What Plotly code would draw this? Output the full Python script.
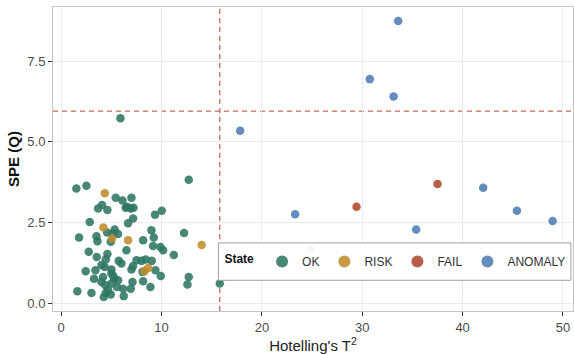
import plotly.graph_objects as go

# ---- data ----
ok_t2 = [1.51, 2.51, 12.71, 5.43, 6.10, 7.00, 4.07, 3.67, 4.60, 6.43, 6.55, 6.93, 7.20, 9.35, 10.02,
         7.16, 6.66, 2.84, 4.57, 5.33, 5.66, 1.78, 3.51, 3.61, 4.94, 8.16, 8.99, 9.22, 12.24, 9.15,
         9.89, 10.15, 6.50, 2.74, 4.60, 11.22, 3.54, 5.73, 6.00, 4.44, 4.01, 7.16, 7.00, 7.50, 8.00,
         8.42, 9.02, 9.39, 9.92, 2.44, 3.41, 5.00, 5.27, 3.27, 4.01, 5.00, 7.10, 8.16, 12.71, 12.58,
         15.80, 4.40, 5.56, 6.16, 6.93, 8.89, 1.61, 3.01, 4.44, 4.94, 4.24, 6.23, 4.67, 5.90, 4.17,
         5.67, 4.34, 5.17, 5.00, 5.20, 8.10]
ok_spe = [3.56, 3.64, 3.83, 3.27, 3.19, 3.27, 3.05, 2.94, 2.89, 2.96, 2.99, 2.94, 2.96, 2.75, 2.87,
          2.63, 2.48, 2.52, 2.20, 2.29, 2.15, 2.04, 2.08, 1.93, 1.91, 1.96, 2.27, 2.04, 2.18, 1.78,
          1.75, 1.65, 1.65, 1.60, 1.53, 1.50, 1.44, 1.32, 1.24, 1.36, 1.19, 1.16, 1.05, 1.34, 1.32,
          1.36, 1.32, 1.03, 0.85, 1.00, 1.03, 0.93, 0.77, 0.77, 0.67, 0.62, 0.67, 0.69, 0.82, 0.59,
          0.62, 0.57, 0.51, 0.46, 0.46, 0.51, 0.38, 0.33, 0.33, 0.28, 0.20, 0.23, 0.41, 5.73, 0.82,
          0.72, 1.13, 2.17, 1.05, 0.85, 0.98]

risk_t2 = [4.34, 4.20, 5.07, 6.66, 14.00, 8.66, 8.30]
risk_spe = [3.41, 2.35, 2.01, 1.96, 1.81, 1.10, 1.00]

fail_t2 = [29.43, 37.50, 24.88]
fail_spe = [2.99, 3.70, 1.67]

anom_t2 = [33.58, 30.75, 33.12, 17.83, 23.31, 35.37, 42.05, 45.41, 48.97]
anom_spe = [8.74, 6.94, 6.40, 5.34, 2.76, 2.29, 3.58, 2.87, 2.55]

T2_LIMIT = 15.8
SPE_LIMIT = 5.95

x_ticks = [0, 10, 20, 30, 40, 50]
y_ticks = [0.0, 2.5, 5.0, 7.5]

states = [
    ("OK", ok_t2, ok_spe, "#2f7663"),
    ("RISK", risk_t2, risk_spe, "#bf8d2c"),
    ("FAIL", fail_t2, fail_spe, "#b0492d"),
    ("ANOMALY", anom_t2, anom_spe, "#4e7db5"),
]

fig = go.Figure()
for name, xs, ys, col in states:
    fig.add_trace(go.Scatter(
        x=xs, y=ys, mode="markers", name=name,
        marker=dict(color=col, size=8.5, opacity=0.88, line=dict(width=0)),
    ))

line_style = dict(color="#c8675a", width=1.3, dash="5px,4px")
fig.add_shape(type="line", xref="x", yref="y domain", x0=T2_LIMIT, x1=T2_LIMIT, y0=0, y1=1,
              line=line_style, layer="below")
fig.add_shape(type="line", xref="x domain", yref="y", x0=0, x1=1, y0=SPE_LIMIT, y1=SPE_LIMIT,
              line=line_style, layer="below")

# legend frame (taller box behind the legend entries)
fig.add_shape(type="rect", xref="paper", yref="paper", x0=0.318, x1=0.996, y0=0.101, y1=0.224,
              fillcolor="rgba(255,255,255,0.94)", line=dict(color="#a0a0a0", width=1), layer="above")

axis_common = dict(
    showgrid=True, gridcolor="#ebebeb", gridwidth=1, zeroline=False,
    showline=True, linecolor="#c4c4c4", linewidth=1, mirror=True,
    ticks="outside", ticklen=4, tickcolor="#333333", tickwidth=1,
    tickfont=dict(size=13, color="#4d4d4d"),
    automargin=False,
)

fig.update_layout(
    width=574, height=354,
    margin=dict(l=53, r=1, t=7, b=43, autoexpand=False),
    paper_bgcolor="white", plot_bgcolor="white",
    font=dict(family="Liberation Sans, Arial, sans-serif", color="#222222"),
    xaxis=dict(range=[-0.82, 51.0], tickvals=x_ticks,
               title=dict(text="Hotelling's T<sup>2</sup>", font=dict(size=15, color="#222222"), standoff=3),
               **axis_common),
    yaxis=dict(range=[-0.23, 9.17], tickvals=y_ticks, tickformat=".1f",
               title=dict(text="<b>SPE (Q)</b>", font=dict(size=15, color="#111111"), standoff=4),
               **axis_common),
    legend=dict(
        orientation="h", x=0.995, xanchor="right", y=0.163, yanchor="middle",
        bgcolor="rgba(0,0,0,0)", borderwidth=0,
        title=dict(text="<b>State</b>", font=dict(size=12, color="#111111"), side="left"),
        font=dict(size=12, color="#333333"),
        itemsizing="constant", itemwidth=30, tracegroupgap=0,
    ),
    showlegend=True,
)

fig.write_html("out.html", config={"displayModeBar": False},
               post_script="document.body.style.margin='0';document.body.style.padding='0';")
